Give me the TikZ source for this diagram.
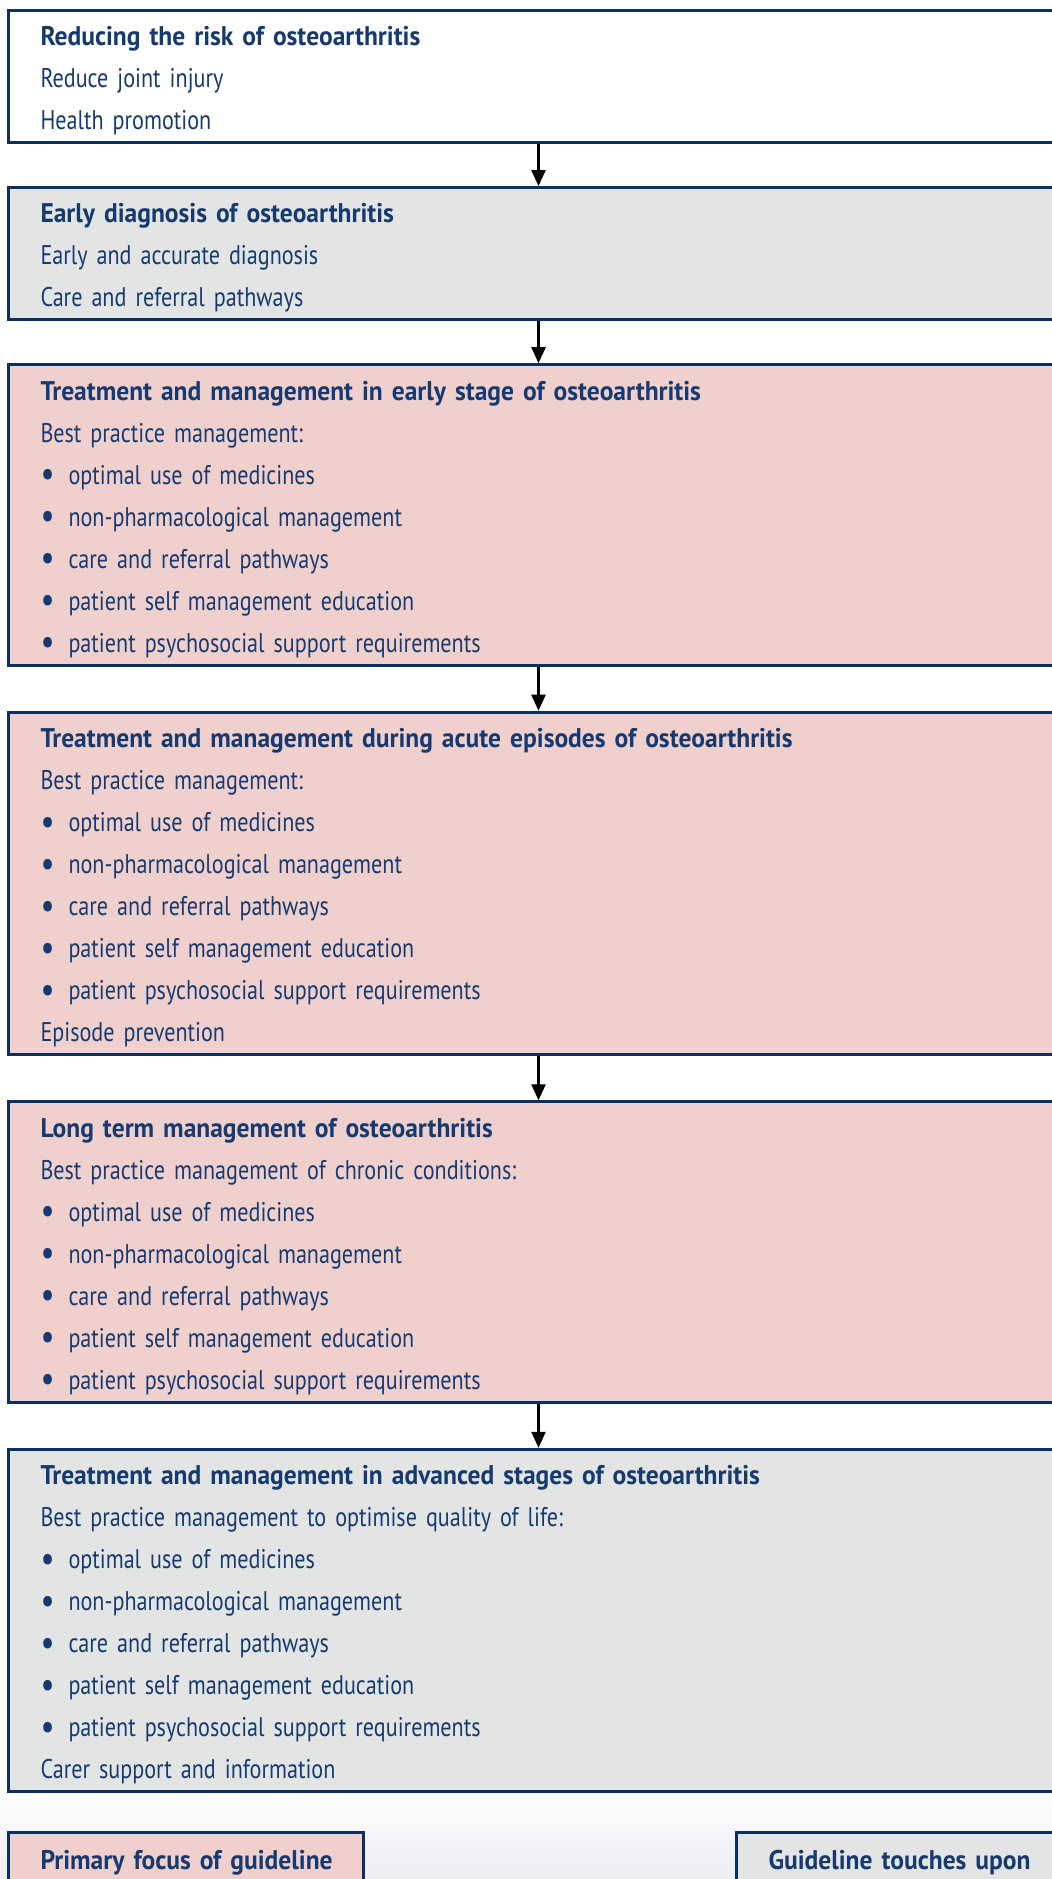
\documentclass[tikz,border=0pt]{standalone}
\usepackage{fontspec}
\setmainfont{PT Sans}[FakeStretch=0.82, WordSpace=0.75,
  BoldFeatures={FakeStretch=0.945, WordSpace=0.85}]
\usetikzlibrary{arrows.meta,positioning}

\definecolor{boxline}{HTML}{0B2F62}
\definecolor{boxtext}{HTML}{163A70}
\definecolor{focusfill}{HTML}{F0D0CD}
\definecolor{touchfill}{HTML}{E3E5E4}
\definecolor{bgtint}{HTML}{EDEDF3}

\newcommand{\stagetitle}[1]{\rule{0pt}{14pt}\textbf{#1}}
\newcommand{\itm}[1]{\makebox[14pt][l]{\raisebox{-1.3pt}{\fontsize{19}{21}\selectfont\textbullet}}#1}
\newcommand{\fivepoints}{\itm{optimal use of medicines}\\
  \itm{non-pharmacological management}\\
  \itm{care and referral pathways}\\
  \itm{patient self management education}\\
  \itm{patient psychosocial support requirements}}

\tikzset{
  stage/.style={draw=boxline, line width=1.5pt, fill=white, text=boxtext,
    align=left, text width=498pt, inner xsep=16pt, inner ysep=0pt,
    font=\fontsize{13.5}{21}\selectfont},
  lines/.style={minimum height={#1*21.05pt+2.9pt}},
  focus/.style={fill=focusfill},
  touch/.style={fill=touchfill},
  flow/.style={-{Triangle[length=8pt,width=7pt]}, line width=1.2pt, black}
}

\begin{document}
\begin{tikzpicture}[node distance=21pt, x=0.5pt, y=-0.5pt]
    \useasboundingbox (0,0) rectangle (1052,1879);
    \shade[top color=white, bottom color=bgtint] (0,1790) rectangle (1052,1879);
    \clip (0,0) rectangle (1052,1879);

    \node[stage, lines=3, anchor=north west] (risk) at (7,9)
        {\stagetitle{Reducing the risk of osteoarthritis}\\
         Reduce joint injury\\
         Health promotion};
    \node[stage, touch, lines=3, below=of risk.south west, anchor=north west] (diag)
        {\stagetitle{Early diagnosis of osteoarthritis}\\
         Early and accurate diagnosis\\
         Care and referral pathways};
    \node[stage, focus, lines=7, below=of diag.south west, anchor=north west] (early)
        {\stagetitle{Treatment and management in early stage of osteoarthritis}\\
         Best practice management:\\
         \fivepoints};
    \node[stage, focus, lines=8, below=22pt of early.south west, anchor=north west] (acute)
        {\stagetitle{Treatment and management during acute episodes of osteoarthritis}\\
         Best practice management:\\
         \fivepoints\\
         Episode prevention};
    \node[stage, focus, lines=7, below=22pt of acute.south west, anchor=north west] (long)
        {\stagetitle{Long term management of osteoarthritis}\\
         Best practice management of chronic conditions:\\
         \fivepoints};
    \node[stage, touch, lines=8, below=22pt of long.south west, anchor=north west] (adv)
        {\stagetitle{Treatment and management in advanced stages of osteoarthritis}\\
         Best practice management to optimise quality of life:\\
         \fivepoints\\
         Carer support and information};

    \draw[flow] (risk) -- (diag);
    \draw[flow] (diag) -- (early);
    \draw[flow] (early) -- (acute);
    \draw[flow] (acute) -- (long);
    \draw[flow] (long) -- (adv);

    % key
    \node[stage, focus, text width=145.5pt, minimum height=30pt,
          below=19pt of adv.south west, anchor=north west] (primary)
        {\mbox{\textbf{Primary focus of guideline}}};
    \node[stage, touch, text width=200pt, minimum height=30pt,
          right=185pt of primary.north east, anchor=north west] (touches)
        {\mbox{\textbf{Guideline touches upon}}};
\end{tikzpicture}
\end{document}
